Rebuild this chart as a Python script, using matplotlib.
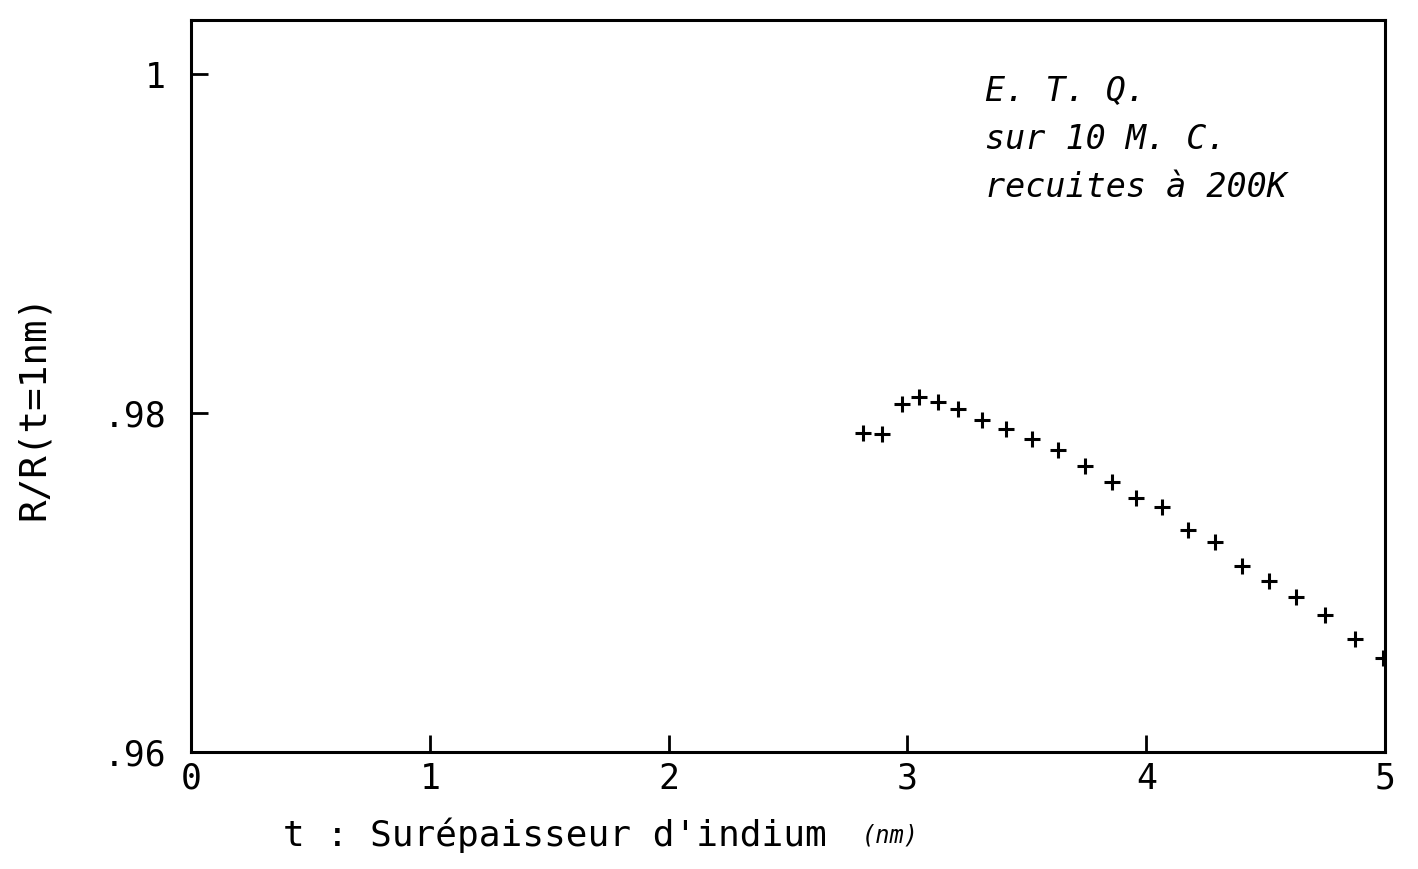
import matplotlib
matplotlib.use("Agg")
from matplotlib import pyplot as plt

# thickness of the indium overlayer (nm) and normalised resistance
thickness = [2.816, 2.894, 2.978, 3.050, 3.127, 3.212, 3.311, 3.411, 3.522, 3.632, 3.744,
             3.856, 3.957, 4.066, 4.177, 4.289, 4.403, 4.515, 4.626, 4.749, 4.874, 4.992]
ratio = [0.97884, 0.97878, 0.98055, 0.98098, 0.98065, 0.98025, 0.97960, 0.97907, 0.97846,
         0.97783, 0.97690, 0.97592, 0.97501, 0.97445, 0.97311, 0.97238, 0.97100, 0.97008,
         0.96913, 0.96807, 0.96665, 0.96553]

x_ticks = [0, 1, 2, 3, 4, 5]
x_tick_labels = ['0', '1', '2', '3', '4', '5']
y_ticks = [0.96, 0.98, 1.0]
y_tick_labels = ['.96', '.98', '1']
notes = ['E. T. Q.', 'sur 10 M. C.', 'recuites à 200K']

mono = 'DejaVu Sans Mono'

fig = plt.figure(figsize=(14.18, 8.69), dpi=100)
ax = fig.add_axes([191 / 1418, 117 / 869, 1194 / 1418, 732 / 869])

ax.plot(thickness, ratio, linestyle='none', marker='+', color='black',
        markersize=11, markeredgewidth=2.2)

ax.set_xlim(0, 5)
ax.set_ylim(0.96, 1.0032)
ax.set_xticks(x_ticks)
ax.set_xticklabels(x_tick_labels, family=mono, fontsize=25)
ax.set_yticks(y_ticks)
ax.set_yticklabels(y_tick_labels, family=mono, fontsize=25)
ax.tick_params(axis='both', direction='in', length=12, width=2, color='black')
ax.tick_params(axis='x', pad=7)
ax.tick_params(axis='y', pad=18)
for side in ax.spines.values():
    side.set_linewidth(2.2)

# axis titles
fig.text(283 / 1418, 1 - 835 / 869, "t : Surépaisseur d'indium", family=mono,
         fontsize=26, ha='left', va='center')
fig.text(862 / 1418, 1 - 835 / 869, "(nm)", family=mono, style='italic',
         fontsize=17, ha='left', va='center')
fig.text(34 / 1418, 1 - 407 / 869, "R/R(t=1nm)", family=mono, fontsize=27,
         rotation=90, ha='center', va='center')

# sample description
for i, line in enumerate(notes):
    ax.text(0.665, 0.902 - i * 0.0656, line, transform=ax.transAxes, family=mono,
            style='italic', fontsize=24, ha='left', va='center')

fig.savefig('out.png', dpi=100, facecolor='white')
